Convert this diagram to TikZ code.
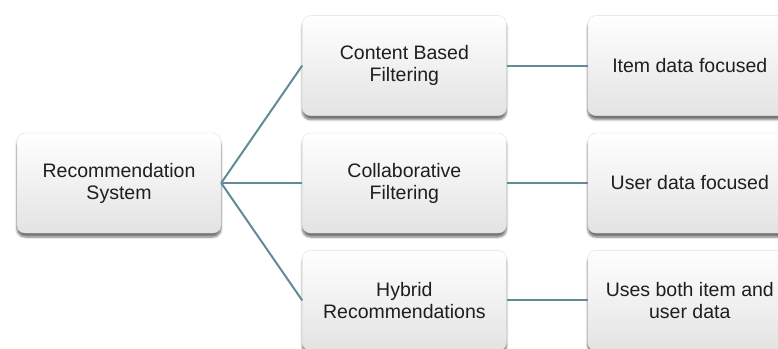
\documentclass[tikz,border=0pt]{standalone}
\usepackage{fontspec}
\setmainfont{Liberation Sans}
\usetikzlibrary{positioning,shadows.blur}

\definecolor{linkcol}{HTML}{5F8C97}
\definecolor{textcol}{HTML}{1E1E1E}

\begin{document}
\begin{tikzpicture}[node distance=17pt and 81pt,
  main node/.style={rectangle,rounded corners=8pt,minimum width=204pt,minimum height=100pt,
    top color=white,bottom color=gray!22,draw=gray!25,thin,align=center,text=textcol,
    font=\fontsize{19.5}{22}\selectfont,
    blur shadow={shadow xshift=0pt,shadow yshift=-4pt,shadow opacity=55,shadow blur steps=6}},
  link/.style={draw=linkcol,line width=2pt}]

  \useasboundingbox (-119pt,-165pt) rectangle (659pt,183pt);

  \node[main node] (rs) {Recommendation\\System};
  \node[main node] (cf) [right=of rs] {Collaborative\\Filtering};
  \node[main node] (cb) [above=of cf] {Content Based\\Filtering};
  \node[main node] (hr) [below=of cf] {Hybrid\\Recommendations};
  \node[main node] (it) [right=of cb] {Item data focused};
  \node[main node] (us) [right=of cf] {User data focused};
  \node[main node] (bo) [right=of hr] {Uses both item and\\user data};

  \path[link]
    (rs.east) edge (cb.west)
              edge (cf.west)
              edge (hr.west)
    (cb) edge (it)
    (cf) edge (us)
    (hr) edge (bo);
\end{tikzpicture}
\end{document}
